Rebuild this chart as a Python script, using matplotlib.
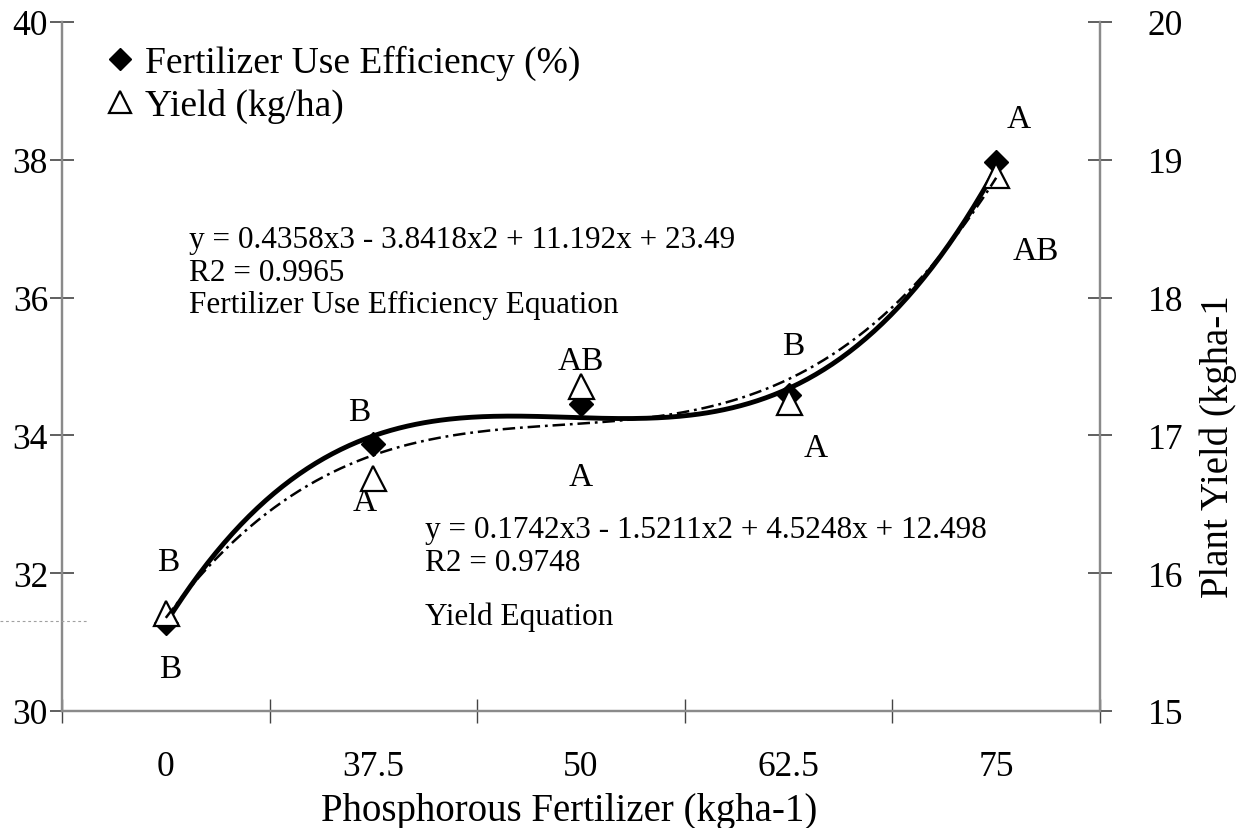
import numpy as np
import matplotlib
matplotlib.use("Agg")
import matplotlib.pyplot as plt
from matplotlib.lines import Line2D

plt.rcParams['font.family'] = ['Liberation Serif', 'DejaVu Serif']
plt.rcParams['lines.scale_dashes'] = False

# ---- data ----
categories = ["0", "37.5", "50", "62.5", "75"]
fue_values = [31.28, 33.87, 34.45, 34.58, 37.97]      # Fertilizer Use Efficiency (%) - left axis
yield_values = [15.71, 16.69, 17.36, 17.24, 18.89]    # Yield - right axis
fue_coef = [0.4358, -3.8418, 11.192, 23.49]           # trendline coefficients (cubic)
yield_coef = [0.1742, -1.5211, 4.5248, 12.498]
fue_letters_up = ["B", "B", "AB", "B", "A"]
yield_letters = ["B", "A", "A", "A", "AB"]

x = np.arange(1, len(categories) + 1)
xs = np.linspace(1, len(categories), 300)

fig = plt.figure(figsize=(12.41, 8.29), dpi=100)
ax = fig.add_axes([62/1241, 1-712/829, (1100-62)/1241, (712-23)/829])
ax2 = ax.twinx()

spine_c = '#8a8a8a'
tick_c = '#444444'

for a in (ax, ax2):
    a.patch.set_visible(False)
    a.spines['top'].set_visible(False)
    for s in ('left', 'right', 'bottom'):
        a.spines[s].set_color(spine_c)
        a.spines[s].set_linewidth(1.6)

ax.set_xlim(0.5, len(categories) + 0.5)
ax.set_ylim(30, 40)
ax2.set_ylim(15, 20)

ax.set_yticks(np.arange(30, 41, 2))
ax2.set_yticks(np.arange(15, 21, 1))
ax.set_xticks(np.arange(0.5, len(categories) + 1, 1))
ax.set_xticklabels([])
ax.set_xticks(x, minor=True)
ax.set_xticklabels(categories, minor=True)

ax.tick_params(axis='x', which='major', direction='inout', length=17, width=1.0, color=tick_c)
ax.tick_params(axis='x', which='minor', length=0, pad=28, labelsize=25.5)
ax.tick_params(axis='y', direction='inout', length=17, width=1.2, color=tick_c, pad=1.5, labelsize=25.5)
ax2.tick_params(axis='y', direction='inout', length=17, width=1.2, color=tick_c, pad=26, labelsize=25.5)

# ---- trend lines ----
ax.plot(xs, np.polyval(fue_coef, xs), color='black', lw=3.5, zorder=4, solid_capstyle='round')
ax2.plot(xs, np.polyval(yield_coef, xs), color='black', lw=1.8, ls=(0, (9, 3.5, 2, 3.5)), zorder=4)

# ---- markers ----
ax.plot(x, fue_values, ls='none', marker='D', ms=12.5, color='black', zorder=3)
ax2.plot(x, yield_values, ls='none', marker='^', ms=18, mfc='white', mec='black', mew=1.6, zorder=3)

# ---- letters ----
letter_kw = dict(fontsize=24, ha='center', va='center', color='black')
up_pos = [(1.01, 32.16), (1.93, 34.35), (3.0, 35.08), (4.02, 35.30), (5.11, 38.59)]
low_pos = [(1.02, 30.61), (1.96, 33.03), (3.0, 33.40), (4.13, 33.82), (5.19, 36.68)]
for (px, py), t in zip(up_pos, fue_letters_up):
    ax.text(px, py, t, **letter_kw)
for (px, py), t in zip(low_pos, yield_letters):
    ax.text(px, py, t, **letter_kw)

# ---- equations ----
eq_kw = dict(fontsize=22.5, ha='left', va='center', color='black')
ax.text(1.11, 36.85, "y = 0.4358x3 - 3.8418x2 + 11.192x + 23.49", **eq_kw)
ax.text(1.11, 36.37, "R2 = 0.9965", **eq_kw)
ax.text(1.11, 35.90, "Fertilizer Use Efficiency Equation", **eq_kw)
ax.text(2.25, 32.64, "y = 0.1742x3 - 1.5211x2 + 4.5248x + 12.498", **eq_kw)
ax.text(2.25, 32.16, "R2 = 0.9748", **eq_kw)
ax.text(2.25, 31.38, "Yield Equation", **eq_kw)

# ---- labels ----
ax.set_xlabel("Phosphorous Fertilizer (kgha-1)", fontsize=28)
ax.xaxis.set_label_coords(0.489, -0.117)
ax2.set_ylabel("Plant Yield (kgha-1", fontsize=28, rotation=90)
ax2.yaxis.set_label_coords(1.114, 0.385)
ax2.yaxis.label.set_va('center')
ax2.yaxis.label.set_ha('center')

# ---- legend ----
handles = [
    Line2D([], [], ls='none', marker='D', ms=11, color='black'),
    Line2D([], [], ls='none', marker='^', ms=16, mfc='white', mec='black', mew=1.6),
]
ax2.legend(handles, ["Fertilizer Use Efficiency (%)", "Yield (kg/ha)"],
           loc='upper left', bbox_to_anchor=(109/1241, 1-46/829), bbox_transform=fig.transFigure,
           frameon=False, fontsize=27, handlelength=0.6, handletextpad=0.35,
           labelspacing=0.2, borderaxespad=0, borderpad=0)

# faint dotted stroke at the left margin
fig.add_artist(Line2D([0, 88/1241], [1-622/829, 1-622/829], transform=fig.transFigure,
                      ls=(0, (2, 2)), color='#a0a0a0', lw=0.8))

fig.savefig("out.png", dpi=100)
